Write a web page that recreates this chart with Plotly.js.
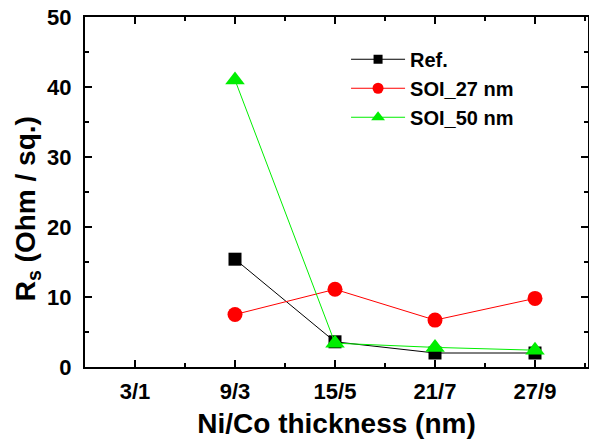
<!DOCTYPE html>
<html>
<head>
<meta charset="utf-8">
<script src="https://cdn.plot.ly/plotly-3.0.1.min.js"></script>
<style>html,body{margin:0;padding:0;background:#fff;}#chart{width:589px;height:439px;}</style>
</head>
<body>
<div id="chart"></div>
<script>
const categories = ["3/1", "9/3", "15/5", "21/7", "27/9"];
const refValues = [null, 15.4, 3.6, 2.0, 2.0];
const soi27Values = [null, 7.5, 11.1, 6.7, 9.8];
const soi50Values = [null, 41.0, 3.4, 2.8, 2.4];
const yTicks = [0, 10, 20, 30, 40, 50];
const seriesNames = ["Ref.", "SOI_27 nm", "SOI_50 nm"];
const seriesColors = ["#000000", "#ff0000", "#00ee00"];
const seriesSymbols = ["square", "circle", "triangle-up"];

const xIdx = categories.map((c, i) => i);
const F = "Liberation Sans, Arial, sans-serif";
const allValues = [refValues, soi27Values, soi50Values];
const markerSizes = [13, 15, 17];
const legendMarkerSizes = [9, 11, 12];

const traces = [];
allValues.forEach((vals, k) => {
  traces.push({x: xIdx, y: vals, name: seriesNames[k], mode: "lines+markers", showlegend: false,
    line: {color: seriesColors[k], width: 1},
    marker: {symbol: seriesSymbols[k], size: markerSizes[k], color: seriesColors[k]}});
});
allValues.forEach((vals, k) => {
  traces.push({x: [null], y: [null], name: seriesNames[k], mode: "lines+markers", showlegend: true,
    line: {color: seriesColors[k], width: 1},
    marker: {symbol: seriesSymbols[k], size: legendMarkerSizes[k], color: seriesColors[k]}});
});

const layout = {
  width: 589, height: 439,
  margin: {l: 85, r: 1, t: 17, b: 72},
  paper_bgcolor: "#fff", plot_bgcolor: "#fff",
  showlegend: true,
  legend: {x: 0.519, y: 0.935, xanchor: "left", yanchor: "top", bgcolor: "rgba(0,0,0,0)",
           font: {family: F, size: 20, color: "#000", weight: "bold"}, itemwidth: 54},
  annotations: [{
    text: "R<sub>s</sub> (Ohm / sq.)", textangle: -90, xref: "paper", yref: "paper",
    x: (27 - 85) / 503, y: (366.7 - 209) / 350, xanchor: "center", yanchor: "middle",
    showarrow: false, font: {family: F, size: 28, color: "#000", weight: "bold"}
  }],
  xaxis: {
    range: [-0.5, 4.53], tickmode: "array", tickvals: xIdx, ticktext: categories,
    showgrid: false, zeroline: false, showline: true, linecolor: "#000", linewidth: 2,
    mirror: "ticks", ticks: "inside", ticklen: 7, tickwidth: 2, tickcolor: "#000",
    minor: {dtick: 0.5, tick0: 0, ticks: "inside", ticklen: 4, tickwidth: 1.5, tickcolor: "#000", showgrid: false},
    tickfont: {family: F, size: 22, color: "#000", weight: "bold"}, ticklabelstandoff: 4,
    title: {text: "Ni/Co thickness (nm)", font: {family: F, size: 28, color: "#000", weight: "bold"}, standoff: 10}
  },
  yaxis: {
    range: [0, 50], tickmode: "array", tickvals: yTicks,
    showgrid: false, zeroline: false, showline: true, linecolor: "#000", linewidth: 2,
    mirror: "ticks", ticks: "inside", ticklen: 7, tickwidth: 2, tickcolor: "#000",
    minor: {dtick: 5, tick0: 0, ticks: "inside", ticklen: 4, tickwidth: 1.5, tickcolor: "#000", showgrid: false},
    tickfont: {family: F, size: 22, color: "#000", weight: "bold"}, ticklabelstandoff: 7
  }
};

Plotly.newPlot("chart", traces, layout, {displayModeBar: false, staticPlot: true});
</script>
</body>
</html>
